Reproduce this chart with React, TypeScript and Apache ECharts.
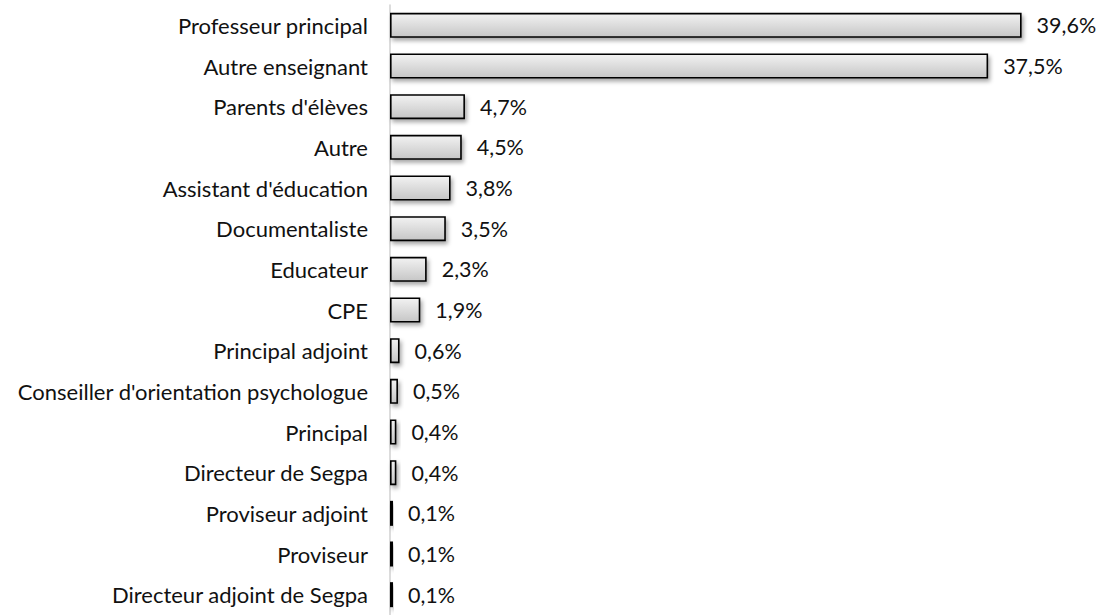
import React, { useEffect, useRef } from "react";
import * as echarts from "echarts";

const categories = [
  "Professeur principal",
  "Autre enseignant",
  "Parents d'élèves",
  "Autre",
  "Assistant d'éducation",
  "Documentaliste",
  "Educateur",
  "CPE",
  "Principal adjoint",
  "Conseiller d'orientation psychologue",
  "Principal",
  "Directeur de Segpa",
  "Proviseur adjoint",
  "Proviseur",
  "Directeur adjoint de Segpa",
];
const values = [39.6, 37.5, 4.7, 4.5, 3.8, 3.5, 2.3, 1.9, 0.6, 0.5, 0.4, 0.4, 0.1, 0.1, 0.1];

const FONT = "Lato, 'Open Sans', sans-serif";

export default function App() {
  const ref = useRef<HTMLDivElement>(null);
  useEffect(() => {
    if (!ref.current) return;
    const chart = echarts.init(ref.current, null, { renderer: "svg" });
    chart.setOption({
      animation: false,
      backgroundColor: "#ffffff",
      grid: { left: 390, top: 5, width: 638, height: 617, containLabel: false },
      xAxis: {
        type: "value",
        min: 0,
        max: 40,
        show: false,
      },
      yAxis: {
        type: "category",
        data: categories,
        inverse: true,
        axisLine: { show: true, lineStyle: { color: "#d0d0d0", width: 1.5 } },
        axisTick: { show: false },
        axisLabel: {
          margin: 22,
          color: "#111111",
          fontSize: 22,
          fontFamily: FONT,
        },
      },
      series: [
        {
          type: "bar",
          data: values,
          barWidth: 25,
          barMinHeight: 3,
          itemStyle: {
            color: new echarts.graphic.LinearGradient(0, 0, 0, 1, [
              { offset: 0, color: "#f2f2f2" },
              { offset: 1, color: "#c6c6c6" },
            ]),
            borderColor: "#000000",
            borderWidth: 1.6,
            shadowColor: "rgba(0,0,0,0.35)",
            shadowBlur: 4,
            shadowOffsetX: 2,
            shadowOffsetY: 3,
          },
          label: {
            show: true,
            position: "right",
            distance: 15,
            color: "#111111",
            fontSize: 21.5,
            fontFamily: FONT,
            formatter: (p: any) => p.value.toFixed(1).replace(".", ",") + "%",
          },
        },
      ],
    });
    return () => chart.dispose();
  }, []);
  return (
    <div
      ref={ref}
      style={{ position: "fixed", left: 0, top: 0, width: 1100, height: 615 }}
    />
  );
}
